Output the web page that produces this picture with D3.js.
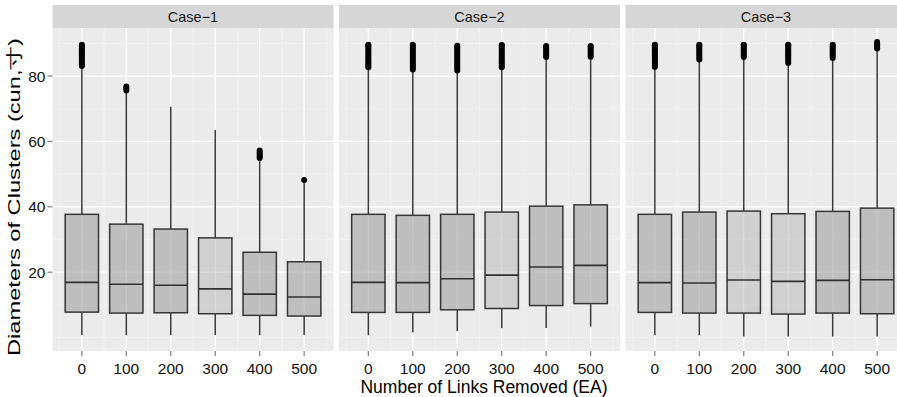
<!DOCTYPE html>
<html>
<head>
<meta charset="utf-8">
<script src="https://cdn.jsdelivr.net/npm/d3@7"></script>
<style>
  body { margin: 0; background: #fff; }
  svg { display: block; font-family: "Liberation Sans", Arial, sans-serif; }
</style>
</head>
<body>
<svg class="chartSVG" width="897" height="397"></svg>
<script>
// data
const cases = ["Case\u22121", "Case\u22122", "Case\u22123"];
const links = ["0", "100", "200", "300", "400", "500"];

const whiskerLo = [
  [0.8, 0.8, 0.8, 0.8, 0.8, 0.8],
  [0.7, 1.6, 2.0, 2.9, 2.9, 3.4],
  [0.7, 0.7, 0.3, 0.3, 0.3, 0.3]
];
const q1 = [
  [7.8, 7.5, 7.6, 7.3, 6.8, 6.6],
  [7.7, 7.7, 8.5, 8.9, 9.8, 10.4],
  [7.7, 7.5, 7.5, 7.2, 7.5, 7.3]
];
const median = [
  [16.9, 16.3, 16.0, 14.9, 13.3, 12.4],
  [16.9, 16.8, 18.0, 19.1, 21.6, 22.1],
  [16.8, 16.7, 17.6, 17.2, 17.5, 17.7]
];
const q3 = [
  [37.7, 34.7, 33.2, 30.5, 26.1, 23.2],
  [37.7, 37.4, 37.7, 38.4, 40.2, 40.6],
  [37.7, 38.4, 38.7, 37.9, 38.6, 39.6]
];
const whiskerHi = [
  [82.5, 74.8, 70.6, 63.5, 54.3, 47.4],
  [82.0, 81.3, 81.0, 82.0, 85.2, 85.3],
  [82.2, 84.5, 85.2, 83.4, 84.9, 87.8]
];
const outliers = [
  [
    [83.1, 83.7, 84.3, 84.9, 85.5, 86.1, 86.7, 87.3, 87.9, 88.5, 89.1, 89.6],
    [75.6, 76.2, 76.8],
    [],
    [],
    [54.9, 55.5, 56.1, 56.7, 57.2],
    [48.2]
  ],
  [
    [82.7, 83.3, 83.9, 84.5, 85.1, 85.7, 86.3, 86.9, 87.5, 88.1, 88.7, 89.3, 89.6],
    [82.0, 82.6, 83.2, 83.8, 84.4, 85.0, 85.6, 86.2, 86.8, 87.4, 88.0, 88.6, 89.2, 89.6],
    [81.7, 82.3, 82.9, 83.5, 84.1, 84.7, 85.3, 85.9, 86.5, 87.1, 87.7, 88.3, 88.9, 89.3],
    [82.7, 83.3, 83.9, 84.5, 85.1, 85.7, 86.3, 86.9, 87.5, 88.1, 88.7, 89.3, 89.5],
    [85.8, 86.4, 87.0, 87.6, 88.2, 88.8, 89.2],
    [85.9, 86.5, 87.1, 87.7, 88.3, 88.9, 89.2]
  ],
  [
    [82.8, 83.4, 84.0, 84.6, 85.2, 85.8, 86.4, 87.0, 87.6, 88.2, 88.8, 89.4, 89.6],
    [85.1, 85.7, 86.3, 86.9, 87.5, 88.1, 88.7, 89.3, 89.6],
    [85.8, 86.4, 87.0, 87.6, 88.2, 88.8, 89.4, 89.6],
    [84.0, 84.6, 85.2, 85.8, 86.4, 87.0, 87.6, 88.2, 88.8, 89.4, 89.6],
    [85.5, 86.1, 86.7, 87.3, 87.9, 88.5, 89.1, 89.6],
    [88.4, 88.9, 89.4, 89.9, 90.4]
  ]
];
const yTicks = [20, 40, 60, 80];
const yMinor = [0, 10, 30, 50, 70, 90];

// boxes that look a touch lighter in the picture
const lighter = [[3], [3], [2, 3]];

const svg = d3.select(".chartSVG");
const config = {
  left: 52.5,
  top: 28,
  bottom: 351,
  panelW: 281,
  gap: 5.5,
  stripTop: 5
};

const y = d3.scaleLinear()
  .domain([-4.1, 94.7])
  .range([config.bottom, config.top]);

const x = d3.scalePoint()
  .domain(links)
  .range([0, config.panelW])
  .padding(0.66);

const step = x.step();
const boxW = step * 0.75;

cases.forEach((c, ci) => {
  const px = config.left + ci * (config.panelW + config.gap);
  const g = svg.append("g").attr("transform", `translate(${px},0)`);

  // strip
  g.append("rect")
    .attr("x", 0).attr("y", config.stripTop)
    .attr("width", config.panelW).attr("height", config.top - config.stripTop)
    .attr("fill", "#d6d6d6");
  g.append("text")
    .attr("x", config.panelW / 2).attr("y", 21.5)
    .attr("text-anchor", "middle")
    .attr("font-size", "14.5px")
    .attr("fill", "#1a1a1a")
    .text(c);

  // panel background
  g.append("rect")
    .attr("x", 0).attr("y", config.top)
    .attr("width", config.panelW).attr("height", config.bottom - config.top)
    .attr("fill", "#ebebeb");

  // minor grid
  g.selectAll(".hmin").data(yMinor).join("line")
    .attr("x1", 0).attr("x2", config.panelW)
    .attr("y1", d => y(d)).attr("y2", d => y(d))
    .attr("stroke", "#f3f3f3").attr("stroke-width", 0.7);
  const vMinor = d3.range(links.length + 1).map(i => x(links[0]) + (i - 0.5) * step);
  g.selectAll(".vmin").data(vMinor).join("line")
    .attr("x1", d => d).attr("x2", d => d)
    .attr("y1", config.top).attr("y2", config.bottom)
    .attr("stroke", "#f3f3f3").attr("stroke-width", 0.7);

  // major grid
  g.selectAll(".hmaj").data(yTicks).join("line")
    .attr("x1", 0).attr("x2", config.panelW)
    .attr("y1", d => y(d)).attr("y2", d => y(d))
    .attr("stroke", "#ffffff").attr("stroke-width", 1.3);
  g.selectAll(".vmaj").data(links).join("line")
    .attr("x1", d => x(d)).attr("x2", d => x(d))
    .attr("y1", config.top).attr("y2", config.bottom)
    .attr("stroke", "#ffffff").attr("stroke-width", 1.3);

  // boxplots
  const boxes = g.selectAll(".box").data(links).join("g")
    .attr("transform", d => `translate(${x(d)},0)`);

  boxes.append("line")
    .attr("x1", 0).attr("x2", 0)
    .attr("y1", (d, i) => y(whiskerLo[ci][i]))
    .attr("y2", (d, i) => y(q1[ci][i]))
    .attr("stroke", "#3a3a3a").attr("stroke-width", 1.5);
  boxes.append("line")
    .attr("x1", 0).attr("x2", 0)
    .attr("y1", (d, i) => y(q3[ci][i]))
    .attr("y2", (d, i) => y(whiskerHi[ci][i]))
    .attr("stroke", "#3a3a3a").attr("stroke-width", 1.5);

  boxes.append("rect")
    .attr("x", -boxW / 2).attr("width", boxW)
    .attr("y", (d, i) => y(q3[ci][i]))
    .attr("height", (d, i) => y(q1[ci][i]) - y(q3[ci][i]))
    .attr("fill", (d, i) => lighter[ci].includes(i) ? "rgba(175,175,175,0.45)" : "rgba(160,160,160,0.6)")
    .attr("stroke", "#363636").attr("stroke-width", 1.5);

  boxes.append("line")
    .attr("x1", -boxW / 2).attr("x2", boxW / 2)
    .attr("y1", (d, i) => y(median[ci][i]))
    .attr("y2", (d, i) => y(median[ci][i]))
    .attr("stroke", "#303030").attr("stroke-width", 1.6);

  boxes.selectAll("circle")
    .data((d, i) => outliers[ci][i])
    .join("circle")
    .attr("cx", 0).attr("cy", d => y(d))
    .attr("r", 3)
    .attr("fill", "#000");

  // x axis ticks and labels
  g.selectAll(".xt").data(links).join("line")
    .attr("x1", d => x(d)).attr("x2", d => x(d))
    .attr("y1", config.bottom).attr("y2", config.bottom + 5)
    .attr("stroke", "#7f7f7f").attr("stroke-width", 1.2);
  g.selectAll(".xl").data(links).join("text")
    .attr("x", d => x(d)).attr("y", 374)
    .attr("text-anchor", "middle")
    .attr("font-size", "15.5px")
    .attr("fill", "#111")
    .text(d => d);
});

// y axis
svg.selectAll(".yt").data(yTicks).join("line")
  .attr("x1", config.left - 5).attr("x2", config.left)
  .attr("y1", d => y(d)).attr("y2", d => y(d))
  .attr("stroke", "#7f7f7f").attr("stroke-width", 1.2);
svg.selectAll(".yl").data(yTicks).join("text")
  .attr("x", config.left - 7).attr("y", d => y(d))
  .attr("dy", "0.36em")
  .attr("text-anchor", "end")
  .attr("font-size", "15.5px")
  .attr("fill", "#111")
  .text(d => d);

// axis titles
svg.append("text")
  .attr("x", 484).attr("y", 393)
  .attr("text-anchor", "middle")
  .attr("font-size", "17.5px")
  .attr("fill", "#000")
  .text("Number of Links Removed (EA)");

svg.append("text")
  .attr("transform", "translate(19.5,197) rotate(-90)")
  .attr("text-anchor", "middle")
  .attr("font-size", "17px")
  .attr("fill", "#000")
  .attr("textLength", 318)
  .attr("lengthAdjust", "spacingAndGlyphs")
  .text("Diameters of Clusters (cun,\u5bf8)");
</script>
</body>
</html>
